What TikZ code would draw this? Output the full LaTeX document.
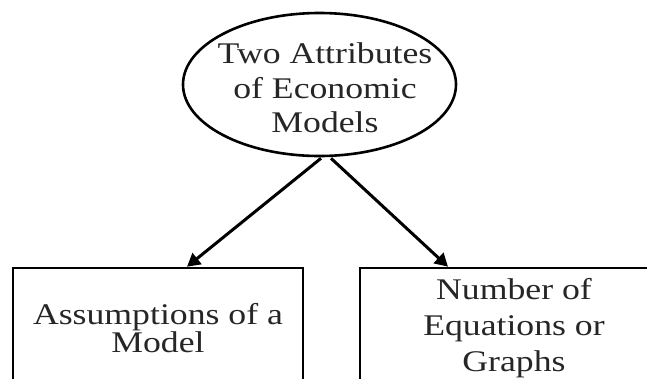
\documentclass[tikz,border=0pt]{standalone}
\usepackage{fontspec}
\newfontfamily\pf[FakeStretch=1.19]{Liberation Serif}
\usetikzlibrary{shapes.geometric,arrows.meta}
\tikzset{
  ovalnode/.style={draw, line width=2.6pt, ellipse, minimum width=273pt, minimum height=143pt, inner sep=0pt},
  labeltext/.style={inner sep=0pt, align=center, text=black!85},
  boxnode/.style={draw, line width=2.6pt, rectangle, inner sep=0pt, align=center, text=black!85},
  conn/.style={line width=3pt, -{Triangle[length=13pt,width=14pt]}},
}
\begin{document}
\begin{tikzpicture}[x=1pt,y=-1pt]
\clip (0,0) rectangle (647,378);
\fill[white] (0,0) rectangle (647,378);
\node[ovalnode] (e) at (319.5,84.5) {};
\node[labeltext, font={\pf\fontsize{30}{34.5}\selectfont}] (et) at (325,88)
  {Two Attributes\\of Economic\\Models};
\node[boxnode, minimum width=290pt, minimum height=120pt, font={\pf\fontsize{30}{27}\selectfont}] (l) at (158,328)
  {Assumptions of a\\Model};
\node[boxnode, minimum width=308pt, minimum height=120pt, font={\pf\fontsize{30}{36}\selectfont}] (r) at (514,328)
  {Number of\\Equations or\\Graphs};
\draw[conn] ([xshift=1.5pt,yshift=-1pt]e.south) -- ([xshift=29pt]l.north);
\draw[conn] ([xshift=11.5pt,yshift=-1pt]e.south) -- ([xshift=-66pt]r.north);
\end{tikzpicture}
\end{document}
